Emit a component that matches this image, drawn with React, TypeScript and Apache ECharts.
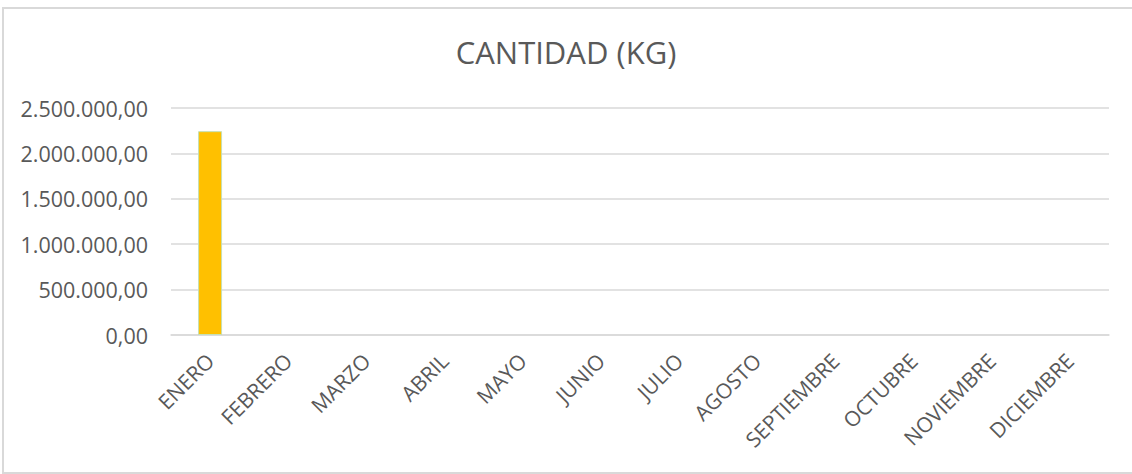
import React, { useEffect, useRef } from "react";
import * as echarts from "echarts";

const months = ["ENERO", "FEBRERO", "MARZO", "ABRIL", "MAYO", "JUNIO", "JULIO", "AGOSTO", "SEPTIEMBRE", "OCTUBRE", "NOVIEMBRE", "DICIEMBRE"];
const cantidadKg: (number | null)[] = [2245000, null, null, null, null, null, null, null, null, null, null, null];
const titleText = "CANTIDAD (KG)";

function fmtEs(v: number): string {
  const fixed = v.toFixed(2);
  const [intPart, dec] = fixed.split(".");
  const withDots = intPart.replace(/\B(?=(\d{3})+(?!\d))/g, ".");
  return withDots + "," + dec;
}

export default function App() {
  const ref = useRef<HTMLDivElement>(null);
  useEffect(() => {
    if (!ref.current) return;
    const chart = echarts.init(ref.current, undefined, { renderer: "svg" });
    const font = "'Open Sans', sans-serif";
    chart.setOption({
      animation: false,
      backgroundColor: "#ffffff",
      textStyle: { fontFamily: font },
      title: {
        text: titleText,
        left: "center",
        top: 31,
        textStyle: { fontFamily: font, fontSize: 31, fontWeight: "normal", color: "#595959" },
      },
      graphic: [
        {
          type: "rect",
          shape: { x: 3, y: 8, width: 1150, height: 465 },
          style: { fill: "none", stroke: "#d9d9d9", lineWidth: 2 },
          silent: true,
        },
      ],
      grid: { left: 171, right: 23, top: 108, bottom: 139, containLabel: false },
      xAxis: {
        type: "category",
        data: months,
        axisLine: { show: true, lineStyle: { color: "#d9d9d9", width: 1.5 } },
        axisTick: { show: false },
        axisLabel: {
          rotate: 45,
          interval: 0,
          margin: 22,
          color: "#595959",
          fontSize: 21,
          fontFamily: font,
        },
      },
      yAxis: {
        type: "value",
        min: 0,
        max: 2500000,
        interval: 500000,
        axisLine: { show: false },
        axisTick: { show: false },
        splitLine: { lineStyle: { color: "#d9d9d9", width: 1.5 } },
        axisLabel: {
          margin: 23,
          color: "#595959",
          fontSize: 21.5,
          fontFamily: font,
          formatter: (v: number) => fmtEs(v),
        },
      },
      series: [
        {
          type: "bar",
          data: cantidadKg,
          barWidth: 24,
          itemStyle: { color: "#FFC000", borderColor: "#C5E0B4", borderWidth: 1 },
        },
      ],
    });
    return () => chart.dispose();
  }, []);
  return (
    <div
      ref={ref}
      style={{ position: "fixed", left: 0, top: 0, width: 1132, height: 474 }}
    />
  );
}
